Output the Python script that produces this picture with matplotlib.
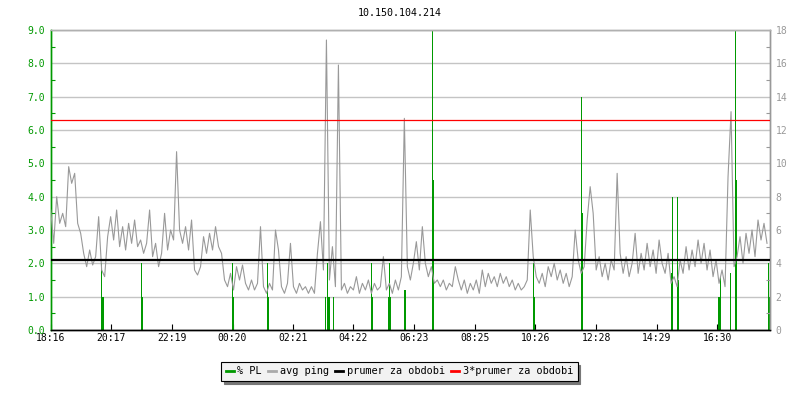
import numpy as np
import matplotlib
matplotlib.use("Agg")
import matplotlib.pyplot as plt
from matplotlib.ticker import FixedLocator, MultipleLocator, FormatStrFormatter

# ---- data -------------------------------------------------------------
title = "10.150.104.214"
tick_labels = ["18:16", "20:17", "22:19", "00:20", "02:21", "04:22",
               "06:23", "08:25", "10:26", "12:28", "14:29", "16:30"]
tick_minutes = [0, 121, 243, 364, 485, 606, 727, 849, 970, 1092, 1213, 1334]

# avg ping [ms], one value every 6 minutes from 18:16
ping_ms = [
    7.2, 5.2, 8.0, 6.4, 7.0, 6.2, 9.8, 8.8, 9.4, 6.4,
    5.8, 4.6, 3.8, 4.8, 3.9, 4.4, 6.8, 3.6, 3.2, 5.6,
    6.8, 5.4, 7.2, 5.0, 6.2, 4.8, 6.4, 5.2, 6.6, 5.0,
    5.4, 4.6, 5.2, 7.2, 4.4, 5.2, 3.8, 4.6, 7.0, 4.8,
    6.0, 5.4, 10.7, 6.0, 5.2, 6.2, 4.8, 6.6, 3.6, 3.3,
    3.8, 5.6, 4.6, 5.8, 4.8, 6.2, 5.0, 4.6, 3.0, 2.6,
    3.4, 2.4, 3.8, 3.0, 3.9, 2.8, 2.4, 3.0, 2.4, 2.8,
    6.2, 2.6, 2.2, 2.8, 2.4, 6.0, 4.8, 2.6, 2.2, 2.8,
    5.2, 2.6, 2.2, 2.8, 2.4, 2.6, 2.2, 2.6, 2.2, 4.6,
    6.5, 3.6, 17.4, 3.0, 5.0, 2.6, 15.9, 2.4, 2.8, 2.2,
    2.6, 2.4, 3.2, 2.2, 2.8, 2.4, 3.0, 2.2, 2.8, 2.4,
    2.6, 4.4, 2.4, 2.8, 2.2, 3.0, 2.4, 3.2, 12.7, 3.8,
    3.0, 4.0, 5.3, 3.6, 6.2, 4.0, 3.2, 3.8, 2.8, 3.0,
    2.6, 3.0, 2.4, 2.8, 2.6, 3.8, 3.0, 2.4, 3.0, 2.2,
    2.8, 2.4, 3.0, 2.2, 3.6, 2.6, 3.4, 2.8, 3.2, 2.6,
    3.4, 2.8, 3.2, 2.6, 3.0, 2.4, 2.8, 2.4, 2.6, 3.0,
    7.2, 4.4, 3.2, 2.8, 3.4, 2.6, 3.8, 3.2, 4.0, 3.0,
    3.6, 2.8, 3.4, 2.6, 3.2, 6.0, 4.2, 3.4, 3.8, 6.6,
    8.6, 7.0, 3.6, 4.4, 3.2, 4.0, 3.0, 4.2, 3.6, 9.4,
    4.6, 3.4, 4.4, 3.2, 4.0, 5.8, 3.4, 4.6, 3.6, 5.2,
    3.8, 4.8, 3.4, 5.4, 4.0, 3.4, 4.6, 2.8, 3.2, 2.6,
    4.2, 3.4, 5.0, 3.6, 4.8, 3.8, 5.4, 4.0, 5.2, 3.6,
    4.8, 3.2, 4.2, 2.8, 3.6, 2.6, 9.2, 13.1, 3.8, 4.4,
    5.6, 4.0, 5.8, 4.6, 6.0, 4.4, 6.6, 5.4, 6.4, 5.2,
]
ping_step_min = 6

# packet loss [%]: minute offset from 18:16 and value
pl_minutes = [100, 102, 104, 180, 182, 362, 364, 434, 436, 550, 554, 556, 558,
              566, 642, 644, 676, 678, 680, 708, 710, 764, 766, 966, 968,
              1062, 1064, 1242, 1244, 1254, 1256, 1336, 1338, 1340, 1360,
              1370, 1372, 1436, 1438]
pl_values = [2.0, 1.0, 1.0, 2.0, 1.0, 2.0, 1.0, 2.0, 1.0, 1.0, 2.0, 1.0, 1.0,
             1.0, 2.0, 1.0, 1.0, 2.0, 1.0, 1.2, 1.2, 9.0, 4.5, 2.0, 1.0,
             7.0, 3.5, 1.7, 4.0, 4.0, 1.5, 1.0, 1.0, 1.6, 1.7,
             9.0, 4.5, 2.0, 1.0]

mean_ping = 4.2
mean3_ping = 12.6

# ---- style -------------------------------------------------------------
GREEN = "#009900"
GRAY = "#999999"
GRID = "#c4c4c4"
FONT = "DejaVu Sans Mono"
plt.rcParams["font.family"] = [FONT]

fig = plt.figure(figsize=(8, 4), dpi=100)
ax = fig.add_axes([50.7 / 800, 70 / 400, 719.3 / 800, 300 / 400])
ax2 = ax.twinx()

# packet loss bars
ax.bar(pl_minutes, pl_values, width=2.0, align="edge", color=GREEN,
       linewidth=0, zorder=2, antialiased=False)
ax.set_xlim(0, 1440)
ax.set_ylim(0, 9)

ax.yaxis.set_major_locator(MultipleLocator(1.0))
ax.yaxis.set_minor_locator(MultipleLocator(0.5))
ax.yaxis.set_major_formatter(FormatStrFormatter("%.1f"))
ax.grid(axis="y", which="major", color=GRID, linewidth=1.0, zorder=0)
ax.set_axisbelow(True)
ax.tick_params(axis="y", which="both", colors=GREEN, labelsize=7,
               direction="in", length=3, width=0.8, pad=4)
ax.tick_params(axis="y", which="major", length=0)

ax.xaxis.set_major_locator(FixedLocator(tick_minutes))
ax.set_xticklabels(tick_labels)
ax.tick_params(axis="x", colors="black", labelsize=7, direction="in",
               length=4, width=0.8, pad=2)

# ping on right axis
t = np.arange(len(ping_ms)) * ping_step_min
ax2.plot(t, ping_ms, color=GRAY, linewidth=0.8, zorder=3)
ax2.axhline(mean_ping, color="black", linewidth=1.6, zorder=4)
ax2.axhline(mean3_ping, color="#ff0000", linewidth=0.9, zorder=4)
ax2.set_ylim(0, 18)
ax2.set_xlim(0, 1440)
ax2.yaxis.set_major_locator(MultipleLocator(2))
ax2.yaxis.set_minor_locator(MultipleLocator(1))
ax2.tick_params(axis="y", which="both", colors=GRAY, labelsize=7,
                direction="in", length=3, width=0.8, pad=4)
ax2.tick_params(axis="y", which="major", length=0)

for a in (ax, ax2):
    a.spines["left"].set_color(GREEN)
    a.spines["bottom"].set_color("black")
    a.spines["top"].set_color("#b0b0b0")
    a.spines["right"].set_color(GRAY)
    for s in a.spines.values():
        s.set_linewidth(1.0)

fig.text(0.5, 1 - 13 / 400, title, ha="center", va="center", fontsize=7.2,
         family=FONT)

handles = [
    plt.Line2D([], [], color=GREEN, linewidth=2),
    plt.Line2D([], [], color="#aaaaaa", linewidth=2),
    plt.Line2D([], [], color="black", linewidth=2),
    plt.Line2D([], [], color="#ff0000", linewidth=2),
]
labels = ["% PL", "avg ping", "prumer za obdobi", "3*prumer za obdobi"]
leg = fig.legend(handles, labels, loc="center",
                 bbox_to_anchor=(399.5 / 800, 1 - 371.5 / 400),
                 ncol=4, fontsize=7.4, handlelength=0.75, handletextpad=0.35,
                 columnspacing=0.65, borderpad=0.45, frameon=True,
                 fancybox=False, shadow={"color": "#777777", "alpha": 1.0})
leg.get_frame().set_edgecolor("black")
leg.get_frame().set_facecolor("#f2f2f2")
leg.get_frame().set_linewidth(0.8)

fig.savefig("out.png", dpi=100)
